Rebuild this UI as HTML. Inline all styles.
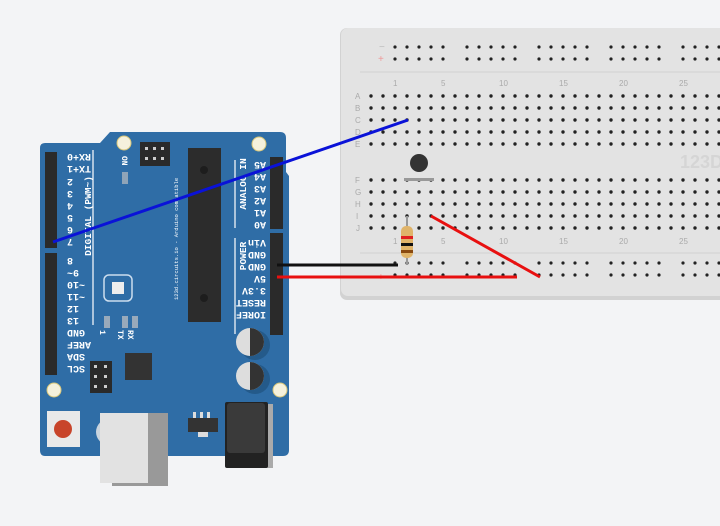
<!DOCTYPE html>
<html><head><meta charset="utf-8"><style>
html,body{margin:0;padding:0;background:#f3f4f6;}
svg{display:block;}
.t{font-family:"Liberation Mono",monospace;font-weight:bold;fill:#fff;font-size:10px;}
.s{font-family:"Liberation Sans",sans-serif;fill:#aaa;font-size:8px;}
</style></head><body>
<svg width="720" height="526" viewBox="0 0 720 526" xmlns="http://www.w3.org/2000/svg">
<defs>
<pattern id="h" x="365" y="90" width="12" height="12" patternUnits="userSpaceOnUse"><circle cx="6" cy="6" r="1.7" fill="#222"/></pattern>
<pattern id="r5" x="389" y="41" width="72" height="12" patternUnits="userSpaceOnUse">
<g fill="#222"><circle cx="6" cy="6" r="1.6"/><circle cx="18" cy="6" r="1.6"/><circle cx="30" cy="6" r="1.6"/><circle cx="42" cy="6" r="1.6"/><circle cx="54" cy="6" r="1.6"/></g></pattern>
</defs>
<rect width="720" height="526" fill="#f3f4f6"/>
<rect x="340" y="28" width="400" height="272" rx="7" fill="#d2d2d2"/>
<rect x="341" y="28" width="399" height="268" rx="7" fill="#e3e3e3"/>
<line x1="360" y1="72" x2="720" y2="72" stroke="#d0d0d0"/>
<line x1="360" y1="253" x2="720" y2="253" stroke="#d0d0d0"/>
<text x="680" y="168" font-size="18" fill="#d5d5d5" font-family="Liberation Sans" font-weight="bold">123D</text>
<rect x="365" y="90" width="360" height="60" fill="url(#h)"/>
<rect x="365" y="174" width="360" height="60" fill="url(#h)"/>
<rect x="389" y="41" width="340" height="24" fill="url(#r5)"/>
<rect x="389" y="259" width="340" height="24" fill="url(#r5)"/>
<g class="s">
<text x="379" y="50" fill="#bbb" font-size="10">−</text><text x="378" y="62" fill="#e99" font-size="10">+</text>
<text x="378" y="280" fill="#e99" font-size="10">+</text>
<text x="355" y="99">A</text><text x="355" y="111">B</text><text x="355" y="123">C</text><text x="355" y="135">D</text><text x="355" y="147">E</text>
<text x="355" y="183">F</text><text x="355" y="195">G</text><text x="355" y="207">H</text><text x="356" y="219">I</text><text x="356" y="231">J</text>
<text x="393" y="86">1</text><text x="441" y="86">5</text><text x="499" y="86">10</text><text x="559" y="86">15</text><text x="619" y="86">20</text><text x="679" y="86">25</text>
<text x="393" y="244">1</text><text x="441" y="244">5</text><text x="499" y="244">10</text><text x="559" y="244">15</text><text x="619" y="244">20</text><text x="679" y="244">25</text>
</g>
<rect x="404" y="178" width="30" height="3" fill="#999"/>
<circle cx="419" cy="163" r="9" fill="#333"/>
<line x1="407" y1="216" x2="407" y2="265" stroke="#999" stroke-width="2"/>
<rect x="401" y="226" width="12" height="32" rx="5" fill="#e0b46a"/>
<rect x="401" y="236" width="12" height="3" fill="#e02020"/>
<rect x="401" y="243" width="12" height="3" fill="#111"/>
<rect x="401" y="250" width="12" height="3" fill="#8a4a10"/>
<path d="M40 148 Q40 143 45 143 L100 143 L110 132 L280 132 Q286 132 286 138 L286 172 L289 176 L289 450 Q289 456 283 456 L45 456 Q40 456 40 450 Z" fill="#2f6da6"/>
<g fill="#f5f1dc" stroke="#d8c679"><circle cx="124" cy="143" r="7"/><circle cx="259" cy="144" r="7"/><circle cx="280" cy="390" r="7"/><circle cx="54" cy="390" r="7"/></g>
<rect x="45" y="152" width="12" height="96" fill="#2a2a2a"/>
<rect x="45" y="253" width="12" height="122" fill="#2a2a2a"/>
<rect x="270" y="157" width="13" height="72" fill="#2a2a2a"/>
<rect x="270" y="233" width="13" height="102" fill="#2a2a2a"/>
<rect x="140" y="142" width="30" height="24" fill="#2a2a2a"/>
<rect x="90" y="361" width="22" height="32" fill="#2a2a2a"/>
<g fill="#ccc"><rect x="145" y="147" width="3" height="3"/><rect x="153" y="147" width="3" height="3"/><rect x="161" y="147" width="3" height="3"/><rect x="145" y="157" width="3" height="3"/><rect x="153" y="157" width="3" height="3"/><rect x="161" y="157" width="3" height="3"/>
<rect x="94" y="365" width="3" height="3"/><rect x="104" y="365" width="3" height="3"/><rect x="94" y="375" width="3" height="3"/><rect x="104" y="375" width="3" height="3"/><rect x="94" y="385" width="3" height="3"/><rect x="104" y="385" width="3" height="3"/></g>
<g stroke="#fff" stroke-width="1.2"><line x1="93" y1="150" x2="93" y2="325"/><line x1="235" y1="160" x2="235" y2="228"/><line x1="235" y1="238" x2="235" y2="334"/></g>
<rect x="188" y="148" width="33" height="174" fill="#2c2c2c"/>
<circle cx="204" cy="170" r="4" fill="#1d1d1d"/><circle cx="204" cy="298" r="4" fill="#1d1d1d"/>
<text transform="translate(178,300) rotate(-90)" font-family="Liberation Mono" font-size="5.5" fill="#fff">123d.circuits.io - Arduino compatible</text>
<rect x="122" y="172" width="6" height="12" fill="#8fa4b8"/>
<rect x="104" y="275" width="28" height="26" rx="5" fill="none" stroke="#cde" stroke-width="1.5"/>
<rect x="112" y="282" width="12" height="12" fill="#eee"/>
<rect x="104" y="316" width="6" height="12" fill="#9ab"/><rect x="122" y="316" width="6" height="12" fill="#9ab"/><rect x="132" y="316" width="6" height="12" fill="#9ab"/>
<rect x="125" y="353" width="27" height="27" fill="#333"/>
<circle cx="255" cy="345" r="15" fill="#245a8a"/><circle cx="250" cy="342" r="14" fill="#ddd"/><path d="M250 328 A14 14 0 0 1 250 356 Z" fill="#333"/>
<circle cx="255" cy="379" r="15" fill="#245a8a"/><circle cx="250" cy="376" r="14" fill="#ddd"/><path d="M250 362 A14 14 0 0 1 250 390 Z" fill="#333"/>
<rect x="47" y="411" width="33" height="36" fill="#e9e9e9"/><circle cx="63" cy="429" r="9" fill="#c8442a"/>
<rect x="96" y="419" width="40" height="26" rx="13" fill="#c9d4de"/>
<rect x="112" y="413" width="56" height="73" fill="#999"/>
<rect x="100" y="413" width="48" height="70" fill="#e2e2e2"/>
<rect x="188" y="418" width="30" height="14" fill="#333"/><rect x="198" y="432" width="10" height="5" fill="#ddd"/>
<rect x="193" y="412" width="3" height="6" fill="#ddd"/><rect x="200" y="412" width="3" height="6" fill="#ddd"/><rect x="207" y="412" width="3" height="6" fill="#ddd"/>
<rect x="230" y="404" width="43" height="64" fill="#aaa"/>
<rect x="225" y="402" width="43" height="66" rx="2" fill="#222"/>
<rect x="227" y="403" width="38" height="50" rx="3" fill="#3a3a3a"/>
<g class="t">
<text text-anchor="end" transform="translate(67,155) rotate(180)" dy="1">RX+0</text>
<text text-anchor="end" transform="translate(67,167) rotate(180)" dy="1">TX+1</text>
<text text-anchor="end" transform="translate(67,180) rotate(180)" dy="1">2</text>
<text text-anchor="end" transform="translate(67,192) rotate(180)" dy="1">3</text>
<text text-anchor="end" transform="translate(67,204) rotate(180)" dy="1">4</text>
<text text-anchor="end" transform="translate(67,216) rotate(180)" dy="1">5</text>
<text text-anchor="end" transform="translate(67,228) rotate(180)" dy="1">6</text>
<text text-anchor="end" transform="translate(67,240) rotate(180)" dy="1">7</text>
<text text-anchor="end" transform="translate(67,259) rotate(180)" dy="1">8</text>
<text text-anchor="end" transform="translate(67,271) rotate(180)" dy="1">9~</text>
<text text-anchor="end" transform="translate(67,283) rotate(180)" dy="1">~10</text>
<text text-anchor="end" transform="translate(67,295) rotate(180)" dy="1">~11</text>
<text text-anchor="end" transform="translate(67,307) rotate(180)" dy="1">12</text>
<text text-anchor="end" transform="translate(67,319) rotate(180)" dy="1">13</text>
<text text-anchor="end" transform="translate(67,331) rotate(180)" dy="1">GND</text>
<text text-anchor="end" transform="translate(67,343) rotate(180)" dy="1">AREF</text>
<text text-anchor="end" transform="translate(67,355) rotate(180)" dy="1">SDA</text>
<text text-anchor="end" transform="translate(67,367) rotate(180)" dy="1">SCL</text>
<text transform="translate(266,163) rotate(180)" dy="1">A5</text>
<text transform="translate(266,175) rotate(180)" dy="1">A4</text>
<text transform="translate(266,187) rotate(180)" dy="1">A3</text>
<text transform="translate(266,199) rotate(180)" dy="1">A2</text>
<text transform="translate(266,211) rotate(180)" dy="1">A1</text>
<text transform="translate(266,223) rotate(180)" dy="1">A0</text>
<text transform="translate(266,241) rotate(180)" dy="1">Vin</text>
<text transform="translate(266,253) rotate(180)" dy="1">GND</text>
<text transform="translate(266,265) rotate(180)" dy="1">GND</text>
<text transform="translate(266,277) rotate(180)" dy="1">5V</text>
<text transform="translate(266,289) rotate(180)" dy="1">3.3V</text>
<text transform="translate(266,301) rotate(180)" dy="1">RESET</text>
<text transform="translate(266,313) rotate(180)" dy="1">IOREF</text>
<text transform="translate(91,216) rotate(-90)" text-anchor="middle" font-size="9.5">DIGITAL (PWM~)</text>
<text transform="translate(246,184) rotate(-90)" text-anchor="middle" font-size="9.5">ANALOG IN</text>
<text transform="translate(246,256) rotate(-90)" text-anchor="middle" font-size="9.5">POWER</text>
<text transform="translate(122,156) rotate(90)" font-size="8">ON</text>
<text transform="translate(100,330) rotate(90)" font-size="8">1</text>
<text transform="translate(118,330) rotate(90)" font-size="8">TX</text>
<text transform="translate(128,330) rotate(90)" font-size="8">RX</text>
</g>
<line x1="53" y1="242" x2="408" y2="120" stroke="#0a12d8" stroke-width="3"/>
<line x1="277" y1="265" x2="398" y2="265" stroke="#111" stroke-width="3"/>
<line x1="277" y1="277" x2="517" y2="277" stroke="#e81010" stroke-width="3"/>
<line x1="431" y1="216" x2="540" y2="277" stroke="#e81010" stroke-width="3"/>
</svg>
</body></html>
